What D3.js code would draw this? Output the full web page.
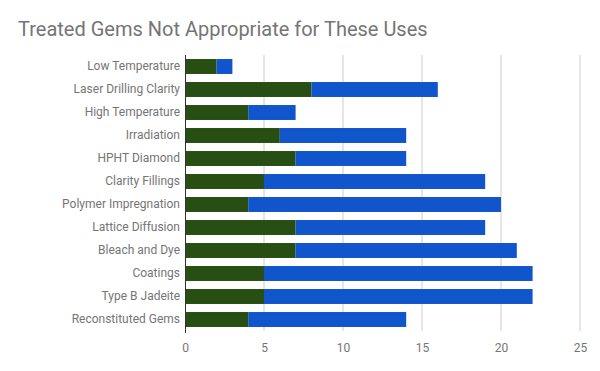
<!DOCTYPE html>
<html>
<head>
<meta charset="utf-8">
<script src="https://cdn.jsdelivr.net/npm/d3@7"></script>
<style>
  body { margin: 0; background: #fff; }
  svg text { font-family: Roboto, "Noto Sans", sans-serif; }
</style>
</head>
<body>
<svg id="chart"></svg>
<script>
const width = 600;
const height = 371;

// Data
const categories = [
  "Low Temperature", "Laser Drilling Clarity", "High Temperature", "Irradiation",
  "HPHT Diamond", "Clarity Fillings", "Polymer Impregnation", "Lattice Diffusion",
  "Bleach and Dye", "Coatings", "Type B Jadeite", "Reconstituted Gems"
];
const greenValues = [2, 8, 4, 6, 7, 5, 4, 7, 7, 5, 5, 4];
const blueValues = [1, 8, 3, 8, 7, 14, 16, 12, 14, 17, 17, 10];
const xTicks = [0, 5, 10, 15, 20, 25];
const seriesKeys = ["green", "blue"];
const colors = { green: "#274e13", blue: "#1155cc" };

const rows = categories.map((c, i) => ({ category: c, green: greenValues[i], blue: blueValues[i] }));

const svg = d3.select("#chart")
  .attr("width", width)
  .attr("height", height);

// title
svg.append("text")
  .attr("x", 18)
  .attr("y", 36)
  .attr("fill", "#757575")
  .style("font-size", "20px")
  .text("Treated Gems Not Appropriate for These Uses");

const margin = { top: 55, right: 20, bottom: 40, left: 185 };
const innerWidth = 580 - margin.left;
const innerHeight = 331 - margin.top;

const g = svg.append("g")
  .attr("transform", `translate(${margin.left},${margin.top})`);

const xScale = d3.scaleLinear()
  .domain([0, 25])
  .range([0, innerWidth]);

const yScale = d3.scaleBand()
  .domain(categories)
  .range([0, innerHeight])
  .paddingInner(0.35)
  .paddingOuter(0.175);

// gridlines
g.selectAll(".grid")
  .data(xTicks.slice(1))
  .enter()
  .append("line")
  .attr("x1", d => xScale(d))
  .attr("x2", d => xScale(d))
  .attr("y1", 0)
  .attr("y2", innerHeight)
  .attr("stroke", "#cccccc")
  .attr("stroke-width", 1);

// stacked bars
const stacked = d3.stack().keys(seriesKeys)(rows);

g.selectAll(".series")
  .data(stacked)
  .enter()
  .append("g")
  .attr("fill", d => colors[d.key])
  .selectAll("rect")
  .data(d => d)
  .enter()
  .append("rect")
  .attr("x", d => xScale(d[0]))
  .attr("y", d => yScale(d.data.category))
  .attr("width", d => xScale(d[1]) - xScale(d[0]))
  .attr("height", yScale.bandwidth());

// x axis
const xAxisG = g.append("g")
  .attr("transform", `translate(0,${innerHeight})`)
  .call(d3.axisBottom(xScale).tickValues(xTicks).tickSize(0).tickPadding(12));

xAxisG.select(".domain").remove();
xAxisG.selectAll("text")
  .attr("fill", "#757575")
  .style("font-size", "12px");

// y axis
const yAxisG = g.append("g")
  .call(d3.axisLeft(yScale).tickSize(0).tickPadding(5));

yAxisG.select(".domain")
  .attr("stroke", "#333333")
  .attr("d", `M0.5,0V${innerHeight + 2}`);
yAxisG.selectAll("text")
  .attr("fill", "#757575")
  .style("font-size", "12px");
</script>
</body>
</html>
